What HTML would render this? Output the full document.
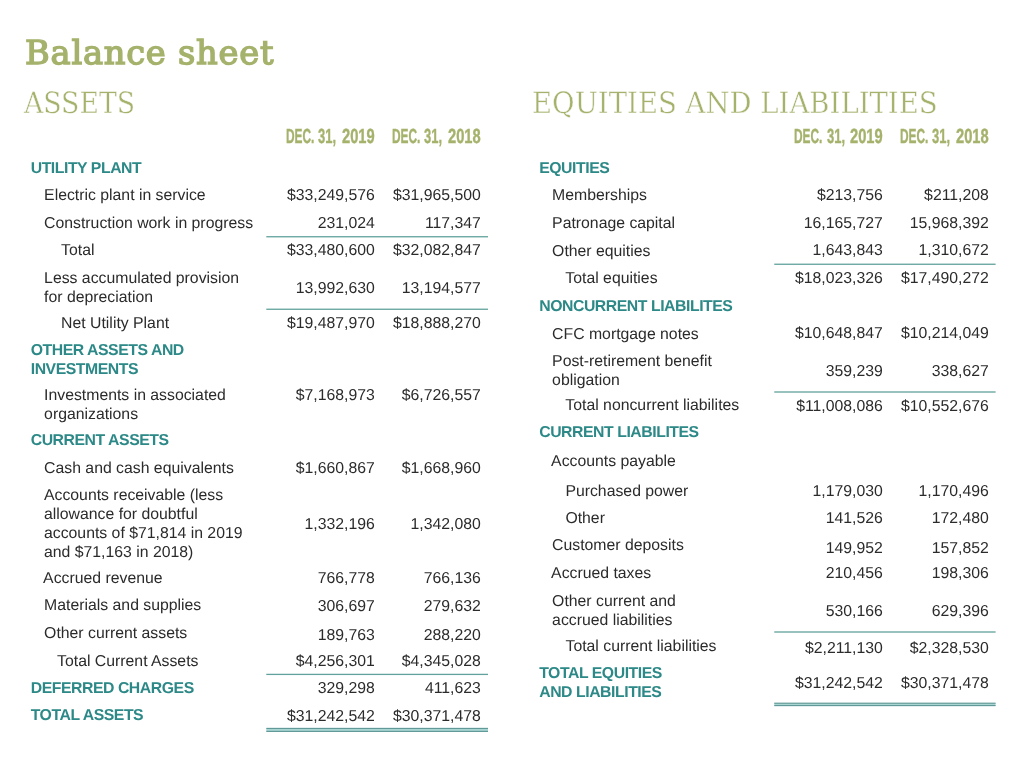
<!DOCTYPE html>
<html lang="en">
<head>
<meta charset="utf-8">
<title>Balance sheet</title>
<style>
html,body{margin:0;padding:0;background:#fff;}
body{width:1024px;height:777px;position:relative;overflow:hidden;text-rendering:geometricPrecision;font-family:"Liberation Sans",Arial,sans-serif;color:#2b2b2b;}
.t,.h,.n{position:absolute;white-space:nowrap;font-size:15.8px;line-height:19.2px;margin:0;}
.h{font-weight:bold;color:#2c8987;letter-spacing:-0.45px;}
.n{text-align:right;}
h1{position:absolute;margin:0;left:24.7px;top:30.5px;font-family:"DejaVu Serif","Liberation Serif",serif;font-weight:normal;font-size:33.1px;line-height:44px;transform:scaleX(1.02);letter-spacing:0.72px;-webkit-text-stroke:1.4px #a5b26c;color:#a5b26c;white-space:nowrap;transform-origin:0 0;}
h2{position:absolute;margin:0;font-family:"DejaVu Serif","Liberation Serif",serif;font-weight:normal;font-size:29.5px;line-height:36px;-webkit-text-stroke:0.45px #fff;color:#a5b26c;white-space:nowrap;transform-origin:0 0;}
.d{position:absolute;margin:0;width:90px;height:22px;font-weight:bold;font-size:20.5px;line-height:22px;color:#a5b26c;white-space:nowrap;-webkit-text-stroke:0.4px #a5b26c;}
.d span{position:absolute;top:0;transform-origin:0 0;}
.d1{left:-0.2px;transform:scaleX(0.58);}
.d2{left:32.3px;transform:scaleX(0.632);}
.d3{left:55.8px;transform:scaleX(0.717);}
</style>
</head>
<body>
<h1 id="title">Balance sheet</h1>
<h2 id="ha" style="left:23.6px;top:84.7px;transform:scaleX(0.905);">ASSETS</h2>
<h2 id="he" style="left:531.6px;top:84.7px;transform:scaleX(0.9325);">EQUITIES AND LIABILITIES</h2>
<div class="d" id="d1" style="left:286px;top:126px;"><span class="d1">DEC.</span> <span class="d2">31,</span> <span class="d3">2019</span></div>
<div class="d" id="d2" style="left:392px;top:126px;"><span class="d1">DEC.</span> <span class="d2">31,</span> <span class="d3">2018</span></div>
<div class="d" id="d3" style="left:794.5px;top:126px;"><span class="d1">DEC.</span> <span class="d2">31,</span> <span class="d3">2019</span></div>
<div class="d" id="d4" style="left:900.2px;top:126px;"><span class="d1">DEC.</span> <span class="d2">31,</span> <span class="d3">2018</span></div>
<div class="h" style="left:30.7px;top:159px;">UTILITY PLANT</div>
<div class="t" style="left:44.1px;top:186px;">Electric plant in service</div>
<div class="t" style="left:44.1px;top:214px;">Construction work in progress</div>
<div class="t" style="left:61.1px;top:241px;">Total</div>
<div class="t" style="left:44.1px;top:268.75px;">Less accumulated provision<br>for depreciation</div>
<div class="t" style="left:61.1px;top:314px;">Net Utility Plant</div>
<div class="h" style="left:30.7px;top:340.8px;">OTHER ASSETS AND<br>INVESTMENTS</div>
<div class="t" style="left:44.1px;top:385.5px;">Investments in associated<br>organizations</div>
<div class="h" style="left:30.7px;top:431px;">CURRENT ASSETS</div>
<div class="t" style="left:44.1px;top:459px;">Cash and cash equivalents</div>
<div class="t" style="left:44px;top:485.55px;">Accounts receivable (less<br>allowance for doubtful<br>accounts of $71,814 in 2019<br>and $71,163 in 2018)</div>
<div class="t" style="left:43.1px;top:569px;">Accrued revenue</div>
<div class="t" style="left:44.1px;top:596px;">Materials and supplies</div>
<div class="t" style="left:44.1px;top:624px;">Other current assets</div>
<div class="t" style="left:57.1px;top:652px;">Total Current Assets</div>
<div class="h" style="left:30.7px;top:679px;">DEFERRED CHARGES</div>
<div class="h" style="left:30.7px;top:706px;">TOTAL ASSETS</div>
<div class="n" style="right:649.2px;top:186px;">$33,249,576</div>
<div class="n" style="right:543.2px;top:186px;">$31,965,500</div>
<div class="n" style="right:649.2px;top:214px;">231,024</div>
<div class="n" style="right:543.2px;top:214px;">117,347</div>
<div class="n" style="right:649.2px;top:241px;">$33,480,600</div>
<div class="n" style="right:543.2px;top:241px;">$32,082,847</div>
<div class="n" style="right:649.2px;top:279px;">13,992,630</div>
<div class="n" style="right:543.2px;top:279px;">13,194,577</div>
<div class="n" style="right:649.2px;top:314px;">$19,487,970</div>
<div class="n" style="right:543.2px;top:314px;">$18,888,270</div>
<div class="n" style="right:649.2px;top:386px;">$7,168,973</div>
<div class="n" style="right:543.2px;top:386px;">$6,726,557</div>
<div class="n" style="right:649.2px;top:459px;">$1,660,867</div>
<div class="n" style="right:543.2px;top:459px;">$1,668,960</div>
<div class="n" style="right:649.2px;top:515px;">1,332,196</div>
<div class="n" style="right:543.2px;top:515px;">1,342,080</div>
<div class="n" style="right:649.2px;top:569px;">766,778</div>
<div class="n" style="right:543.2px;top:569px;">766,136</div>
<div class="n" style="right:649.2px;top:597px;">306,697</div>
<div class="n" style="right:543.2px;top:597px;">279,632</div>
<div class="n" style="right:649.2px;top:626px;">189,763</div>
<div class="n" style="right:543.2px;top:626px;">288,220</div>
<div class="n" style="right:649.2px;top:652px;">$4,256,301</div>
<div class="n" style="right:543.2px;top:652px;">$4,345,028</div>
<div class="n" style="right:649.2px;top:679px;">329,298</div>
<div class="n" style="right:543.2px;top:679px;">411,623</div>
<div class="n" style="right:649.2px;top:707px;">$31,242,542</div>
<div class="n" style="right:543.2px;top:707px;">$30,371,478</div>
<div class="h" style="left:539.2px;top:159px;">EQUITIES</div>
<div class="t" style="left:552.1px;top:186px;">Memberships</div>
<div class="t" style="left:552.1px;top:214px;">Patronage capital</div>
<div class="t" style="left:552.1px;top:242px;">Other equities</div>
<div class="t" style="left:565.35px;top:269px;">Total equities</div>
<div class="h" style="left:539.2px;top:297px;">NONCURRENT LIABILITES</div>
<div class="t" style="left:552.1px;top:325px;">CFC mortgage notes</div>
<div class="t" style="left:552.1px;top:351.75px;">Post-retirement benefit<br>obligation</div>
<div class="t" style="left:565.35px;top:396px;">Total noncurrent liabilites</div>
<div class="h" style="left:539.2px;top:423px;">CURRENT LIABILITES</div>
<div class="t" style="left:551.1px;top:452px;">Accounts payable</div>
<div class="t" style="left:565.4px;top:482px;">Purchased power</div>
<div class="t" style="left:565.4px;top:509px;">Other</div>
<div class="t" style="left:552.1px;top:536px;">Customer deposits</div>
<div class="t" style="left:551.1px;top:564px;">Accrued taxes</div>
<div class="t" style="left:552.1px;top:592px;">Other current and<br>accrued liabilities</div>
<div class="t" style="left:565.5px;top:637px;">Total current liabilities</div>
<div class="h" style="left:539.2px;top:664px;line-height:19px;">TOTAL EQUITIES<br>AND LIABILITIES</div>
<div class="n" style="right:141.2px;top:186px;">$213,756</div>
<div class="n" style="right:35.2px;top:186px;">$211,208</div>
<div class="n" style="right:141.2px;top:214px;">16,165,727</div>
<div class="n" style="right:35.2px;top:214px;">15,968,392</div>
<div class="n" style="right:141.2px;top:241px;">1,643,843</div>
<div class="n" style="right:35.2px;top:241px;">1,310,672</div>
<div class="n" style="right:141.2px;top:269px;">$18,023,326</div>
<div class="n" style="right:35.2px;top:269px;">$17,490,272</div>
<div class="n" style="right:141.2px;top:324px;">$10,648,847</div>
<div class="n" style="right:35.2px;top:324px;">$10,214,049</div>
<div class="n" style="right:141.2px;top:362px;">359,239</div>
<div class="n" style="right:35.2px;top:362px;">338,627</div>
<div class="n" style="right:141.2px;top:397px;">$11,008,086</div>
<div class="n" style="right:35.2px;top:397px;">$10,552,676</div>
<div class="n" style="right:141.2px;top:482px;">1,179,030</div>
<div class="n" style="right:35.2px;top:482px;">1,170,496</div>
<div class="n" style="right:141.2px;top:509px;">141,526</div>
<div class="n" style="right:35.2px;top:509px;">172,480</div>
<div class="n" style="right:141.2px;top:539px;">149,952</div>
<div class="n" style="right:35.2px;top:539px;">157,852</div>
<div class="n" style="right:141.2px;top:564px;">210,456</div>
<div class="n" style="right:35.2px;top:564px;">198,306</div>
<div class="n" style="right:141.2px;top:602px;">530,166</div>
<div class="n" style="right:35.2px;top:602px;">629,396</div>
<div class="n" style="right:141.2px;top:639px;">$2,211,130</div>
<div class="n" style="right:35.2px;top:639px;">$2,328,530</div>
<div class="n" style="right:141.2px;top:674px;">$31,242,542</div>
<div class="n" style="right:35.2px;top:674px;">$30,371,478</div>
<svg width="1024" height="777" viewBox="0 0 1024 777" style="position:absolute;left:0;top:0;pointer-events:none" aria-hidden="true">
<rect x="266.3" y="236.1" width="221.7" height="1.3" fill="#62a29c"/>
<rect x="266.3" y="308.6" width="221.7" height="1.3" fill="#62a29c"/>
<rect x="266.3" y="673.75" width="221.7" height="1.3" fill="#62a29c"/>
<rect x="774.25" y="263.6" width="221.35" height="1.3" fill="#62a29c"/>
<rect x="774.25" y="391.35" width="221.35" height="1.3" fill="#62a29c"/>
<rect x="774.25" y="631.35" width="221.35" height="1.3" fill="#62a29c"/>
<rect x="266.3" y="728.4" width="221.7" height="3" fill="#a9d6d3"/>
<rect x="266.3" y="727.85" width="221.7" height="1.1" fill="#5b9593"/>
<rect x="266.3" y="730.85" width="221.7" height="1.1" fill="#5b9593"/>
<rect x="774.25" y="703.2" width="221.35" height="2.4" fill="#a9d6d3"/>
<rect x="774.25" y="702.65" width="221.35" height="1.1" fill="#5b9593"/>
<rect x="774.25" y="705.05" width="221.35" height="1.1" fill="#5b9593"/>
</svg>
</body>
</html>
